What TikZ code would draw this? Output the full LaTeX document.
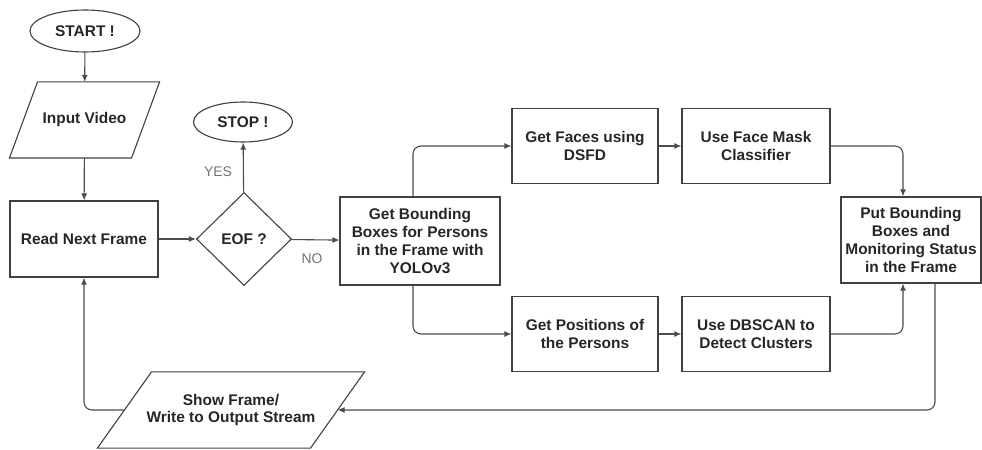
\documentclass[tikz,border=0pt]{standalone}
\usepackage{fontspec}
\setmainfont{Liberation Sans}
\usetikzlibrary{shapes.geometric,arrows.meta,calc}
\tikzset{
  base/.style={draw=black!75, line width=1.1bp, text=black!85, font=\fontsize{15.5}{18}\selectfont\bfseries, align=center, inner sep=1bp},
  boxnode/.style={base, rectangle, minimum width=#1, minimum height=75bp},
  oval/.style={base, ellipse, inner sep=0pt},
  paratext/.style={base, draw=none, rectangle, minimum height=75bp},
  paraline/.style={draw=black!75, line width=1.1bp, line join=miter},
  decision/.style={base, diamond, inner sep=0pt, minimum width=95bp, minimum height=93bp},
  arr/.style={draw=black!70, line width=1.1bp, -{Latex[length=7bp,width=6bp]}, rounded corners=8bp},
  lbl/.style={text=black!55, font=\fontsize{14}{16}\selectfont}
}
\begin{document}
\begin{tikzpicture}[x=1bp,y=-1bp]
\useasboundingbox (0,0) rectangle (982,450);
\node[oval, minimum width=110bp, minimum height=42bp] (start) at (85,31) {START !};
\node[paratext, minimum width=121bp] (input) at (84.5,120) {Input Video};
\draw[paraline] ($(input.north west)+(14,0)$) -- ($(input.north east)+(14,0)$)
  -- ($(input.south east)+(-14,0)$) -- ($(input.south west)+(-14,0)$) -- cycle;
\node[boxnode=148bp, minimum height=76bp] (read) at (84,239) {Read Next Frame};
\node[decision] (eof) at (244,239) {EOF ?};
\node[oval, minimum width=99bp, minimum height=40bp] (stop) at (243,122) {STOP !};
\node[lbl] (yes) at (218,172) {YES};
\node[lbl] (no) at (312,259) {NO};
\node[boxnode=160bp, minimum height=88bp] (bb) at (420,241) {Get Bounding\\Boxes for Persons\\in the Frame with\\YOLOv3};
\node[boxnode=146bp] (faces) at (585,146) {Get Faces using\\DSFD};
\node[boxnode=146bp] (pos) at (585,334) {Get Positions of\\the Persons};
\node[boxnode=148bp] (mask) at (756,146) {Use Face Mask\\Classifier};
\node[boxnode=148bp] (dbscan) at (756,334) {Use DBSCAN to\\Detect Clusters};
\node[boxnode=140bp, minimum height=86bp, inner sep=0bp] (put) at (911,240) {Put Bounding\\Boxes and\\Monitoring Status\\in the Frame};
\node[paratext, minimum width=212bp] (show) at (231,410) {Show Frame/\\Write to Output Stream};
\draw[paraline] ($(show.north west)+(27,0)$) -- ($(show.north east)+(27,0)$)
  -- ($(show.south east)+(-27,0)$) -- ($(show.south west)+(-27,0)$) -- cycle;

\coordinate (bbtop) at ($(bb.north)+(-7,0)$);
\coordinate (bbbot) at ($(bb.south)+(-7,0)$);
\coordinate (puttop) at ($(put.north)+(-8,0)$);
\coordinate (putbot) at ($(put.south)+(-8,0)$);
\coordinate (putout) at ($(put.south)+(24,0)$);

\draw[arr] (start) -- (input);
\draw[arr] (input) -- (read);
\draw[arr] (read) -- (eof);
\draw[arr] (eof) -- (stop);
\draw[arr] (eof) -- (bb);
\draw[arr] (bbtop) |- (faces.west);
\draw[arr] (bbbot) |- (pos.west);
\draw[arr] (faces) -- (mask);
\draw[arr] (pos) -- (dbscan);
\draw[arr] (mask.east) -| (puttop);
\draw[arr] (dbscan.east) -| (putbot);
\draw[arr] (putout) |- (show.east);
\draw[arr] (show.west) -| (read.south);
\end{tikzpicture}
\end{document}
